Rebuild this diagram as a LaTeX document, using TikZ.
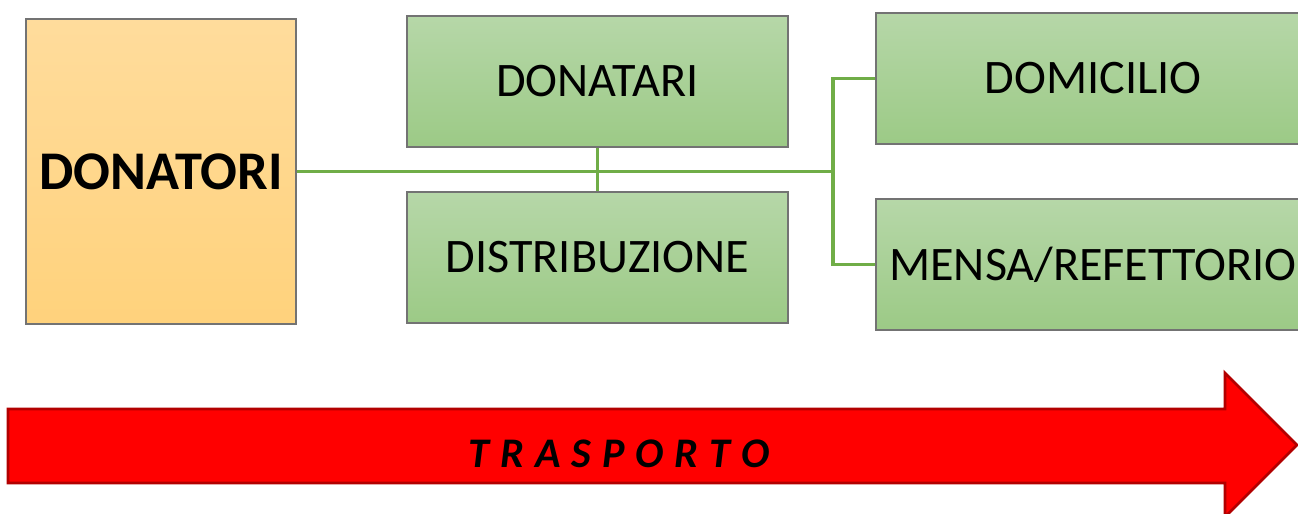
\documentclass[tikz,border=0pt]{standalone}
\usepackage{fontspec}
\setmainfont{Carlito}
\usetikzlibrary{positioning}

\definecolor{boxgreentop}{HTML}{B6D7A8}
\definecolor{boxgreenbot}{HTML}{9CCA86}
\definecolor{boxorangetop}{HTML}{FFDC9C}
\definecolor{boxorangebot}{HTML}{FFD27C}
\definecolor{linkgreen}{HTML}{70AD47}
\definecolor{arrowred}{HTML}{FF0000}

\newcommand{\ls}{\hspace{0.26em}}

\tikzset{
  greenbox/.style={draw=black!55, line width=0.6pt, top color=boxgreentop,
    bottom color=boxgreenbot, minimum width=3.81cm, minimum height=1.31cm,
    inner sep=0pt, font=\fontsize{13.7}{16}\selectfont},
  link/.style={draw=linkgreen, line width=0.9pt}
}

\begin{document}
\begin{tikzpicture}

\clip (0, 0) rectangle (12.98, 5.13);

% transport arrow
\draw[fill=arrowred, draw=arrowred!70!black, line width=0.8pt]
  (0.08, 1.04) -- (12.25, 1.04) -- (12.25, 1.40) -- (12.97, 0.68)
  -- (12.25, -0.04) -- (12.25, 0.30) -- (0.08, 0.30) -- cycle;
\node (trasporto) at (6.19, 0.59) {\fontsize{12}{14}\selectfont\bfseries\itshape
  T\ls R\ls A\ls S\ls P\ls O\ls R\ls T\ls O};

% boxes
\node[draw=black!55, line width=0.6pt, top color=boxorangetop, bottom color=boxorangebot,
  minimum width=2.70cm, minimum height=3.05cm, inner sep=0pt,
  font=\fontsize{15.5}{18}\selectfont\bfseries] (donatori) at (1.61, 3.415) {DONATORI};
\node[greenbox] (donatari) at (5.975, 4.315) {DONATARI};
\node[greenbox] (distrib) at (5.975, 2.555) {DISTRIBUZIONE};
\node[greenbox, minimum width=4.34cm] (domicilio) at (10.93, 4.345) {DOMICILIO};
\node[greenbox, minimum width=4.34cm] (mensa) at (10.93, 2.485) {MENSA/REFETTORIO};

% links
\coordinate (split) at (8.33, 3.415);
\draw[link] (donatori.east) -- (split);
\draw[link] (donatari.south) -- (distrib.north);
\draw[link] (domicilio.west) -| (split) |- (mensa.west);

\end{tikzpicture}
\end{document}
